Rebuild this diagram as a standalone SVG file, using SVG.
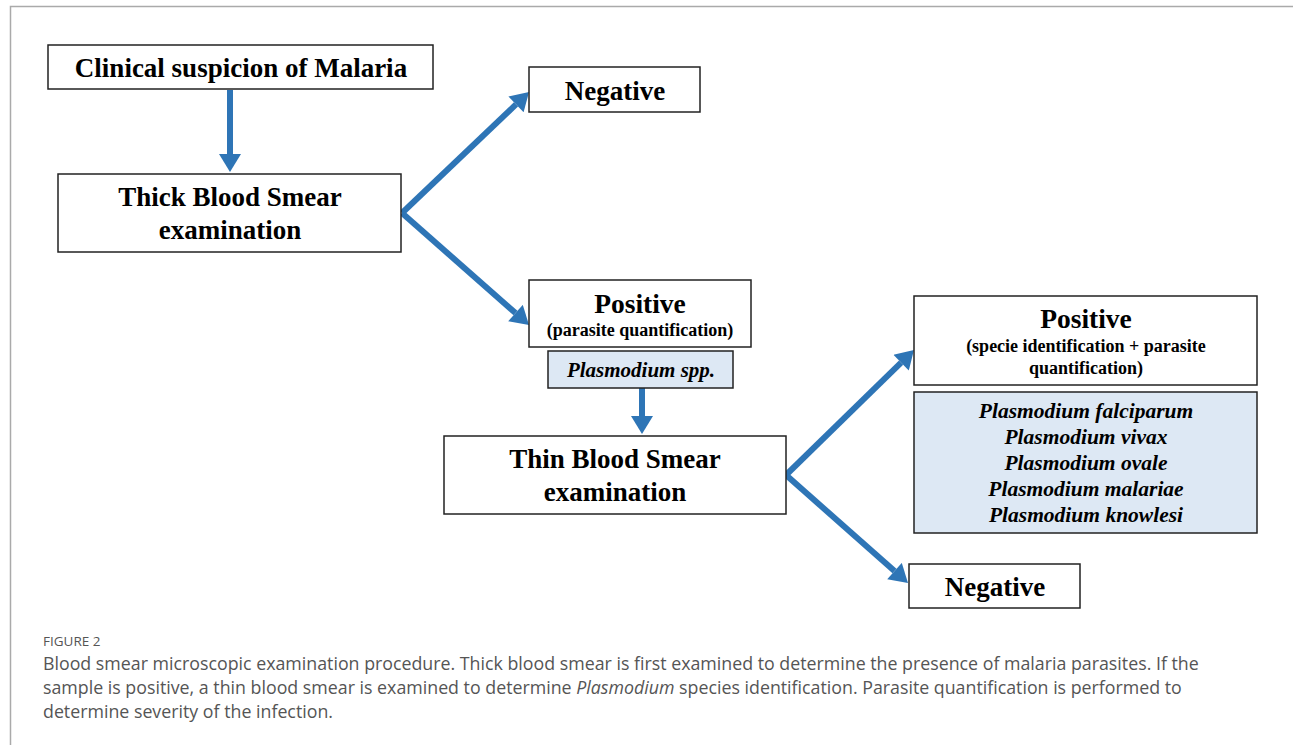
<svg xmlns="http://www.w3.org/2000/svg" width="1293" height="745" viewBox="0 0 1293 745">
<defs>
<style>
.box{fill:#fff;stroke:#222;stroke-width:1.5}
.blue{fill:#dde8f4;stroke:#222;stroke-width:1.5}
.t{font-family:"Liberation Serif","Times New Roman",serif;font-weight:bold;fill:#000;text-anchor:middle}
.i{font-style:italic}
.arr{stroke:#2e75b6;stroke-width:6;fill:none;marker-end:url(#ah)}
.cap{font-family:"Open Sans","Noto Sans",sans-serif;fill:#555}
</style>
<marker id="ah" markerUnits="userSpaceOnUse" markerWidth="20" markerHeight="22" viewBox="0 0 18 22" refX="0" refY="11" orient="auto">
<path d="M0,0 L18,11 L0,22 z" fill="#2e75b6"/>
</marker>
</defs>
<rect width="1293" height="745" fill="#fff"/>
<path d="M10.5,745 V6.5 H1293" fill="none" stroke="#aaa" stroke-width="1.5"/>

<g id="connectors">
<line class="arr" x1="230" y1="90" x2="230" y2="154"/>
<line class="arr" x1="402" y1="213" x2="516" y2="104.4"/>
<line class="arr" x1="402" y1="213" x2="515.5" y2="313.1"/>
<line class="arr" x1="642" y1="388" x2="642" y2="416"/>
<line class="arr" x1="786" y1="475" x2="901.1" y2="362.6"/>
<line class="arr" x1="786" y1="475" x2="894.5" y2="571.1"/>
</g>

<g id="clinical">
<rect class="box" x="48" y="45" width="385" height="44"/>
<text class="t" x="241" y="77" font-size="27">Clinical suspicion of Malaria</text>
</g>
<g id="thick">
<rect class="box" x="58" y="174" width="343" height="78"/>
<text class="t" x="230" y="206" font-size="27">Thick Blood Smear</text>
<text class="t" x="230" y="239" font-size="27">examination</text>
</g>
<g id="negative1">
<rect class="box" x="529" y="67" width="171" height="45"/>
<text class="t" x="615" y="100" font-size="27">Negative</text>
</g>
<g id="positive1">
<rect class="box" x="529" y="280" width="222" height="67"/>
<text class="t" x="640" y="313" font-size="27.5">Positive</text>
<text class="t" x="640" y="336" font-size="18">(parasite quantification)</text>
</g>
<g id="spp">
<rect class="blue" x="548" y="351" width="185" height="37"/>
<text class="t i" x="641" y="377" font-size="21">Plasmodium spp.</text>
</g>
<g id="thin">
<rect class="box" x="444" y="436" width="342" height="78"/>
<text class="t" x="615" y="468" font-size="27">Thin Blood Smear</text>
<text class="t" x="615" y="501" font-size="27">examination</text>
</g>
<g id="positive2">
<rect class="box" x="914" y="296" width="343" height="89"/>
<text class="t" x="1086" y="328" font-size="27.5">Positive</text>
<text class="t" x="1086" y="352" font-size="18">(specie identification + parasite</text>
<text class="t" x="1086" y="374" font-size="18">quantification)</text>
</g>
<g id="species">
<rect class="blue" x="914" y="392" width="343" height="141"/>
<text class="t i" x="1086" y="418" font-size="21.5">Plasmodium falciparum</text>
<text class="t i" x="1086" y="444" font-size="21.5">Plasmodium vivax</text>
<text class="t i" x="1086" y="470" font-size="21.5">Plasmodium ovale</text>
<text class="t i" x="1086" y="496" font-size="21.5">Plasmodium malariae</text>
<text class="t i" x="1086" y="522" font-size="21.5">Plasmodium knowlesi</text>
</g>
<g id="negative2">
<rect class="box" x="909" y="564" width="171" height="44"/>
<text class="t" x="995" y="596" font-size="27">Negative</text>
</g>

<g id="caption">
<text class="cap" x="43" y="646" font-size="13.5" fill="#666">FIGURE 2</text>
<text class="cap" x="43" y="670" font-size="17.8">Blood smear microscopic examination procedure. Thick blood smear is first examined to determine the presence of malaria parasites. If the</text>
<text class="cap" x="43" y="694" font-size="17.8">sample is positive, a thin blood smear is examined to determine <tspan font-style="italic">Plasmodium</tspan> species identification. Parasite quantification is performed to</text>
<text class="cap" x="43" y="718" font-size="17.8">determine severity of the infection.</text>
</g>
</svg>
